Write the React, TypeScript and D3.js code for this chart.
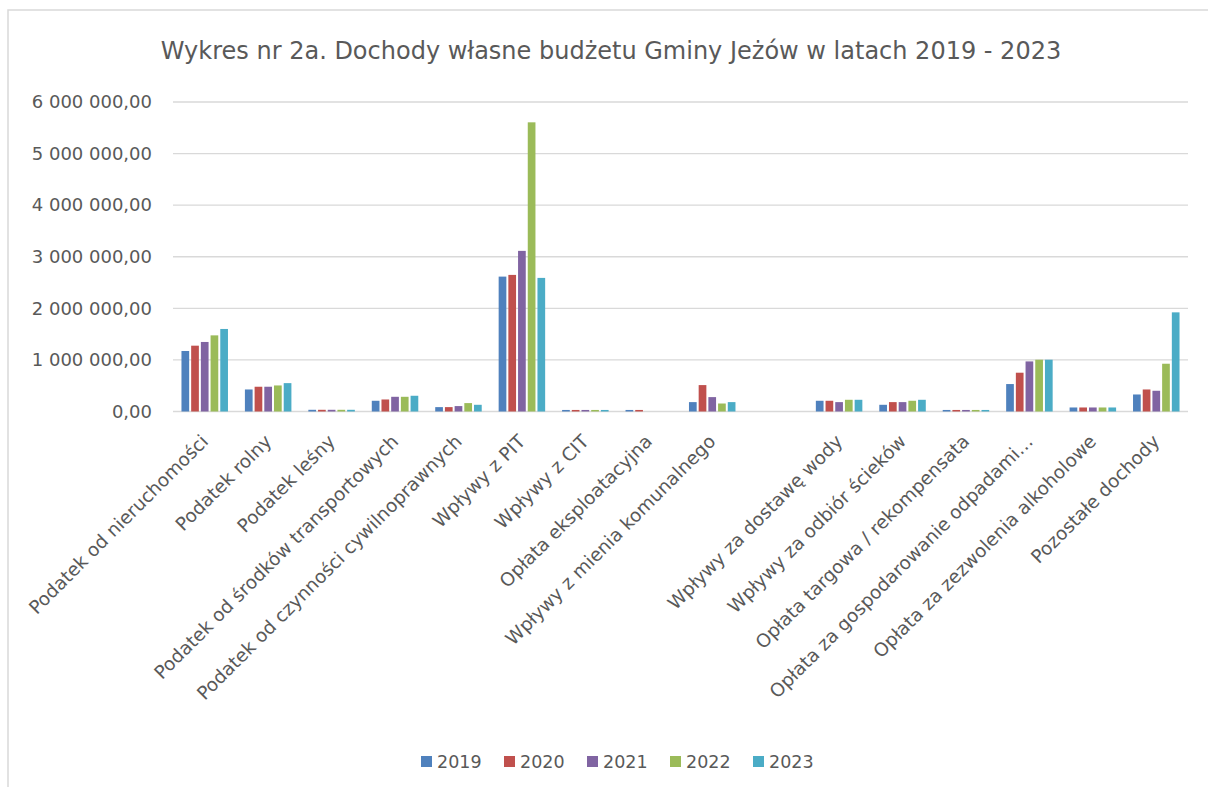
import React from "react";
import * as d3 from "d3";

// kategorie dochodów (jedna pusta kategoria jak w oryginale)
const categories = [
  "Podatek od nieruchomości",
  "Podatek rolny",
  "Podatek leśny",
  "Podatek od środków transportowych",
  "Podatek od czynności cywilnoprawnych",
  "Wpływy z PIT",
  "Wpływy z CIT",
  "Opłata eksploatacyjna",
  "Wpływy z mienia komunalnego",
  "",
  "Wpływy za dostawę wody",
  "Wpływy za odbiór ścieków",
  "Opłata targowa / rekompensata",
  "Opłata za gospodarowanie odpadami…",
  "Opłata za zezwolenia alkoholowe",
  "Pozostałe dochody",
];

const years = ["2019", "2020", "2021", "2022", "2023"];
const colors = ["#4F81BD", "#C0504D", "#8064A2", "#9BBB59", "#4BACC6"];

const v2019 = [1173000, 427000, 33000, 208000, 85000, 2615000, 30000, 30000, 182000, 0, 208000, 130000, 30000, 532000, 78000, 330000];
const v2020 = [1276000, 480000, 33000, 233000, 85000, 2648000, 30000, 30000, 512000, 0, 208000, 182000, 30000, 752000, 78000, 427000];
const v2021 = [1348000, 480000, 33000, 285000, 105000, 3114000, 30000, 0, 279000, 0, 182000, 182000, 30000, 971000, 78000, 402000];
const v2022 = [1476000, 505000, 33000, 285000, 163000, 5606000, 30000, 0, 155000, 0, 227000, 208000, 30000, 1004000, 78000, 926000];
const v2023 = [1600000, 550000, 33000, 305000, 130000, 2590000, 30000, 0, 182000, 0, 227000, 227000, 30000, 1004000, 78000, 1922000];

const series = [v2019, v2020, v2021, v2022, v2023];
const yTicks = [0, 1000000, 2000000, 3000000, 4000000, 5000000, 6000000];

const W = 1208;
const H = 787;
const FONT = "'DejaVu Sans', sans-serif";
const TEXT = "#595959";

const plLocale = d3.formatLocale({ decimal: ",", thousands: "\u00a0", grouping: [3], currency: ["", " zł"] });
const fmt = plLocale.format(",.2f");

export default function App() {
  const left = 173;
  const right = 1188;
  const top = 102;
  const bottom = 411.5;

  const x = d3.scaleBand<number>().domain(d3.range(categories.length)).range([left, right]);
  const xi = d3
    .scaleBand<number>()
    .domain(d3.range(years.length))
    .range([0, x.bandwidth()])
    .paddingOuter(0.77);
  const y = d3.scaleLinear().domain([0, 6000000]).range([bottom, top]);

  return (
    <svg width={W} height={H} style={{ position: "absolute", left: 0, top: 0 }} fontFamily={FONT}>
      <rect x={0} y={0} width={W} height={H} fill="#fff" />
      <rect x={8} y={10} width={W + 50} height={H + 50} fill="none" stroke="#d9d9d9" strokeWidth={1.5} />

      <text x={611} y={59} textAnchor="middle" fontSize={24} fill={TEXT}>
        Wykres nr 2a. Dochody własne budżetu Gminy Jeżów w latach 2019 - 2023
      </text>

      {/* siatka i oś Y */}
      {yTicks.map((t) => (
        <g key={t}>
          <line x1={left} x2={right} y1={y(t)} y2={y(t)} stroke="#d9d9d9" strokeWidth={1.3} />
          <text x={152} y={y(t)} dy="0.35em" textAnchor="end" fontSize={18} fill={TEXT}>
            {fmt(t)}
          </text>
        </g>
      ))}

      {/* słupki */}
      {series.map((vals, s) =>
        vals.map((v, i) =>
          v > 0 ? (
            <rect
              key={`${s}-${i}`}
              x={(x(i) as number) + (xi(s) as number) + 1}
              y={y(v)}
              width={xi.bandwidth() - 2}
              height={bottom - y(v)}
              fill={colors[s]}
            />
          ) : null
        )
      )}

      {/* etykiety kategorii */}
      {categories.map((c, i) => {
        const cx = (x(i) as number) + x.bandwidth() / 2;
        const cy = 438;
        return (
          <text
            key={i}
            transform={`translate(${cx},${cy}) rotate(-45)`}
            textAnchor="end"
            dy="0.35em"
            fontSize={18.5}
            fill={TEXT}
          >
            {c}
          </text>
        );
      })}

      {/* legenda */}
      {years.map((yr, s) => {
        const lx = 421 + s * 83;
        return (
          <g key={yr}>
            <rect x={lx} y={756} width={11} height={11} fill={colors[s]} />
            <text x={lx + 16} y={762} dy="0.35em" fontSize={17.5} fill={TEXT}>
              {yr}
            </text>
          </g>
        );
      })}
    </svg>
  );
}
